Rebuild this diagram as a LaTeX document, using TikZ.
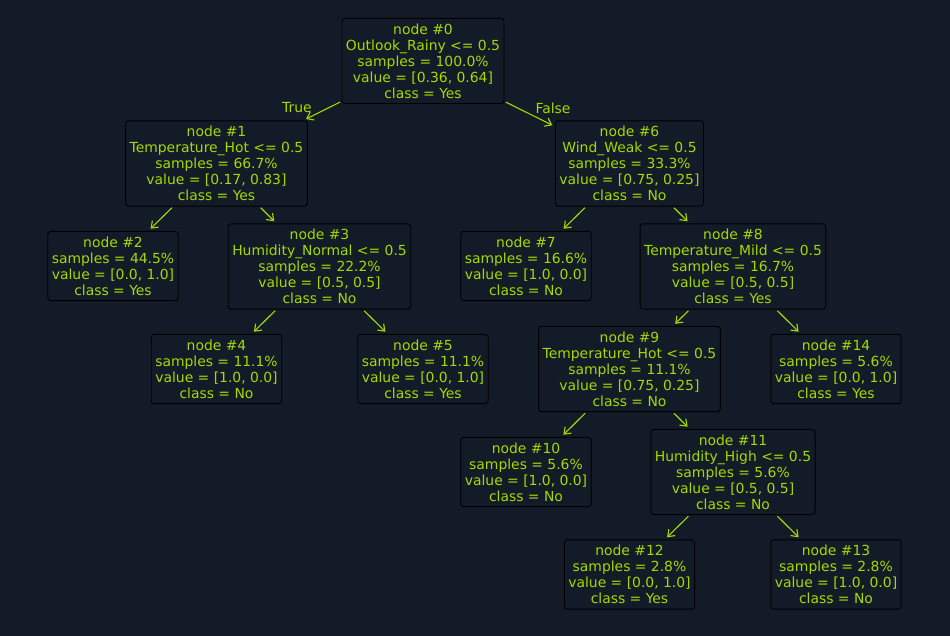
\documentclass[tikz,border=0pt]{standalone}
\usepackage{fontspec}
\setmainfont{DejaVu Sans}
\usetikzlibrary{arrows.meta}
\definecolor{bgc}{HTML}{131B29}
\definecolor{txc}{HTML}{A3DA00}
\tikzset{
  tnode/.style={draw=black, fill=bgc, rounded corners=3pt, align=center, text=txc,
    inner xsep=4pt, inner ysep=5.3pt, line width=0.9pt,
    font=\fontsize{13.9}{16}\selectfont},
  arr/.style={draw=txc, line width=1.1pt, shorten <=1.5pt, shorten >=3pt,
    -{Straight Barb[length=6pt,width=9pt]}},
  elabel/.style={text=txc, font=\fontsize{13.9}{16}\selectfont}
}
\begin{document}
\begin{tikzpicture}[x=1pt,y=-1pt]
\useasboundingbox[fill=bgc] (0,0) rectangle (950,636);
\node[tnode] (n0) at (423,61) {node \#0\\Outlook\_Rainy <= 0.5\\samples = 100.0\%\\value = [0.36, 0.64]\\class = Yes};
\node[tnode] (n1) at (216.5,163.5) {node \#1\\Temperature\_Hot <= 0.5\\samples = 66.7\%\\value = [0.17, 0.83]\\class = Yes};
\node[tnode] (n6) at (629.5,163.5) {node \#6\\Wind\_Weak <= 0.5\\samples = 33.3\%\\value = [0.75, 0.25]\\class = No};
\node[tnode] (n2) at (113,266) {node \#2\\samples = 44.5\%\\value = [0.0, 1.0]\\class = Yes};
\node[tnode] (n3) at (319.5,266.5) {node \#3\\Humidity\_Normal <= 0.5\\samples = 22.2\%\\value = [0.5, 0.5]\\class = No};
\node[tnode] (n7) at (526,266) {node \#7\\samples = 16.6\%\\value = [1.0, 0.0]\\class = No};
\node[tnode] (n8) at (733,266.5) {node \#8\\Temperature\_Mild <= 0.5\\samples = 16.7\%\\value = [0.5, 0.5]\\class = Yes};
\node[tnode] (n4) at (216.5,369) {node \#4\\samples = 11.1\%\\value = [1.0, 0.0]\\class = No};
\node[tnode] (n5) at (423,369) {node \#5\\samples = 11.1\%\\value = [0.0, 1.0]\\class = Yes};
\node[tnode] (n9) at (629.5,369) {node \#9\\Temperature\_Hot <= 0.5\\samples = 11.1\%\\value = [0.75, 0.25]\\class = No};
\node[tnode] (n14) at (836,369) {node \#14\\samples = 5.6\%\\value = [0.0, 1.0]\\class = Yes};
\node[tnode] (n10) at (526,472) {node \#10\\samples = 5.6\%\\value = [1.0, 0.0]\\class = No};
\node[tnode] (n11) at (733,472) {node \#11\\Humidity\_High <= 0.5\\samples = 5.6\%\\value = [0.5, 0.5]\\class = No};
\node[tnode] (n12) at (629.5,574.5) {node \#12\\samples = 2.8\%\\value = [0.0, 1.0]\\class = Yes};
\node[tnode] (n13) at (836,574.5) {node \#13\\samples = 2.8\%\\value = [1.0, 0.0]\\class = No};
\draw[arr] (n0) -- (n1);
\draw[arr] (n0) -- (n6);
\draw[arr] (n1) -- (n2);
\draw[arr] (n1) -- (n3);
\draw[arr] (n3) -- (n4);
\draw[arr] (n3) -- (n5);
\draw[arr] (n6) -- (n7);
\draw[arr] (n6) -- (n8);
\draw[arr] (n8) -- (n9);
\draw[arr] (n8) -- (n14);
\draw[arr] (n9) -- (n10);
\draw[arr] (n9) -- (n11);
\draw[arr] (n11) -- (n12);
\draw[arr] (n11) -- (n13);
\node[elabel] (lt) at (297,108) {True};
\node[elabel] (lf) at (553,108) {False};
\end{tikzpicture}
\end{document}
